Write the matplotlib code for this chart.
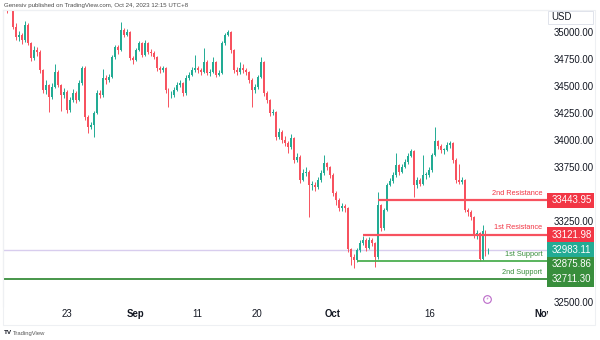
import matplotlib
matplotlib.use("Agg")
import matplotlib.pyplot as plt
import numpy as np
from matplotlib.patches import Rectangle
from matplotlib.transforms import blended_transform_factory, Bbox, TransformedBbox

# ---- US30 price bars (each bar opens at the previous close) ----
first_open = 35260
closes = [
    35240, 35280, 35046, 34954, 34972, 34926, 35065, 34898, 34759, 34833,
    34815, 34648, 34463, 34509, 34398, 34491, 34630, 34509, 34417, 34444,
    34278, 34370, 34435, 34370, 34528, 34667, 34213, 34120, 34139, 34250,
    34435, 34417, 34574, 34556, 34583, 34769, 34861, 34833, 35019, 34972,
    35000, 34759, 34741, 34833, 34898, 34787, 34898, 34815, 34806, 34769,
    34667, 34648,
    34667, 34463, 34417, 34417, 34463, 34509, 34528, 34435, 34574, 34602,
    34648, 34667, 34648, 34630, 34722, 34620, 34630, 34722, 34602, 34620,
    34898, 34972, 35000, 34833, 34648, 34630, 34667, 34648, 34630, 34556,
    34463, 34491, 34583, 34722, 34435, 34370, 34250, 34259, 34028, 34074,
    34000, 33972, 33935, 34019, 33815, 33843, 33630, 33694, 33704, 33583,
    33583, 33565, 33630, 33694, 33787, 33750, 33676, 33509, 33444,
    33370, 33389, 33370, 32991, 32917, 32889, 32981, 33046, 33074, 33000,
    33074, 33046, 32917, 33398, 33185, 33352, 33583, 33620, 33676, 33769,
    33704, 33750, 33796, 33852, 33898, 33583, 33630, 33593, 33676, 33676,
    33722, 33861, 33991, 33944, 33907, 33907, 33954, 33972, 33815, 33630,
    33611, 33630, 33352, 33333, 33287, 33111, 33139, 32900, 33160, 32955,
    32983.11,
]
highs = [
    35300, 35330, 35300, 35080, 35010, 34990, 35100, 35080, 34910, 34870,
    34860, 34830, 34660, 34560, 34520, 34530, 34700, 34650, 34520, 34480,
    34460, 34400, 34470, 34450, 34560, 34690, 34690, 34230, 34170, 34270,
    34460, 34460, 34660, 34600, 34610, 34790, 34880, 34880, 35093, 35040,
    35030, 35010, 34780, 34850, 34920, 34910, 34930, 34905, 34840, 34820,
    34780, 34690,
    34690, 34680, 34480, 34450, 34490, 34540, 34560, 34540, 34600, 34630,
    34680, 34787, 34690, 34670, 34852, 34740, 34660, 34770, 34730, 34650,
    34920, 34990, 35020, 35010, 34840, 34680, 34720, 34700, 34670, 34640,
    34570, 34520, 34600, 34769, 34730, 34450, 34380, 34290, 34270, 34110,
    34090, 34040, 33990, 34060, 34030, 33880, 33860, 33730, 33750, 33720,
    33620, 33610, 33660, 33720, 33861, 33800, 33760, 33690, 33530,
    33460, 33420, 33410, 33380, 33000, 32940, 33000, 33070, 33110, 33090,
    33100, 33090, 33060, 33519, 33410, 33370, 33600, 33650, 33700, 33880,
    33780, 33780, 33820, 33880, 33920, 33910, 33660, 33650, 33861, 33700,
    33750, 33880, 34120, 34000, 33960, 33930, 33980, 33990, 33980, 33830,
    33780, 33660, 33640, 33370, 33350, 33300, 33170, 33150, 33213, 33170,
    33000,
]
lows = [
    35180, 35220, 35030, 34930, 34920, 34890, 34910, 34880, 34730, 34740,
    34780, 34620, 34440, 34430, 34260, 34380, 34480, 34490, 34270, 34390,
    34250, 34260, 34350, 34340, 34360, 34510, 34190, 34065, 34100, 34028,
    34240, 34390, 34400, 34520, 34540, 34570, 34750, 34800, 34820, 34950,
    34960, 34740, 34700, 34730, 34820, 34770, 34780, 34800, 34780, 34750,
    34640, 34620,
    34630, 34440, 34305, 34390, 34400, 34450, 34490, 34410, 34420, 34560,
    34590, 34630, 34620, 34600, 34620, 34600, 34590, 34620, 34580, 34590,
    34610, 34880, 34960, 34810, 34620, 34600, 34610, 34620, 34600, 34530,
    34305, 34440, 34470, 34570, 34410, 34340, 34220, 34230, 34000, 34010,
    33970, 33940, 33880, 33920, 33790, 33800, 33600, 33620, 33670, 33287,
    33540, 33530, 33550, 33610, 33680, 33720, 33650, 33480, 33400,
    33340, 33340, 33330, 32960, 32843, 32815, 32870, 32960, 33030, 32970,
    32990, 33020, 32824, 32900, 33160, 33170, 33340, 33570, 33600, 33660,
    33680, 33690, 33740, 33780, 33840, 33472, 33560, 33570, 33580, 33640,
    33660, 33700, 33850, 33920, 33880, 33870, 33900, 33930, 33790, 33600,
    33590, 33590, 33330, 33300, 33260, 33090, 33080, 32876, 32890, 32930,
    32940,
]

# ---- support / resistance levels ----
level_names = ["2nd Resistance", "1st Resistance", "1st Support", "2nd Support"]
level_values = [33443.95, 33121.98, 32875.86, 32711.30]
level_start_bar = [124, 119, 117, None]
level_colors = ["#f7525f", "#f7525f", "#4caf50", "#388e3c"]
level_box_colors = ["#f23645", "#f23645", "#388e3c", "#388e3c"]

# ---- axis labels ----
price_ticks = [32500, 32750, 33000, 33250, 33500, 33750, 34000, 34250, 34500, 34750, 35000]
date_labels = ["23", "Sep", "11", "20", "Oct", "16", "Nov"]
date_bars = [20.1, 42.8, 63.5, 83.6, 109.0, 141.5, 179.3]
month_names = {"Sep", "Oct", "Nov"}

UP = "#22ab94"
DOWN = "#f7525f"
TXT = "#131722"
FONT = "Liberation Sans"
SCALE_FS = 6.9

W, H = 600, 340
fig = plt.figure(figsize=(W / 100, H / 100), dpi=100)
fig.patch.set_facecolor("white")
plt.rcParams["font.family"] = [FONT, "DejaVu Sans"]

# price pane: x 3..548 px, y 10..306 px
ax = fig.add_axes([3 / W, 1 - 306 / H, 545 / W, 296 / H])
ax.set_facecolor("white")

opens = [first_open] + closes[:-1]
n = len(closes)
xs = np.arange(n)
o = np.array(opens, dtype=float)
c = np.array(closes, dtype=float)
hi = np.array(highs, dtype=float)
lo = np.array(lows, dtype=float)
up = c >= o
cols = np.where(up, UP, DOWN)

ax.vlines(xs, lo, hi, colors=cols, linewidth=0.7, zorder=3)
body_bottom = np.minimum(o, c)
body_h = np.maximum(np.abs(c - o), 6)
ax.bar(xs, body_h, bottom=body_bottom, width=0.66, color=cols, linewidth=0, zorder=4)

ax.set_xlim(-1.34, 180.9)
ax.set_ylim(32463, 35204)

# last price line
ax.axhline(closes[-1], color="#d8cdee", linewidth=1.0, zorder=2)

# support / resistance lines and their labels
x_left, x_right = ax.get_xlim()
for name, val, start, col, tcol in zip(level_names, level_values, level_start_bar,
                                       level_colors, level_box_colors):
    x0 = x_left if start is None else start
    ax.hlines(val, x0, x_right, color=col, linewidth=1.6 if "Resistance" in name else 1.3, zorder=5)
    ax.annotate(name, xy=(1.0, val), xycoords=blended_transform_factory(ax.transAxes, ax.transData),
                xytext=(-4, 2.5), textcoords="offset points", ha="right", va="bottom",
                fontsize=5.3, color=tcol, zorder=6)

# price boxes on the scale, pushed apart so they do not overlap
box_items = [(v, col) for v, col in zip(level_values, level_box_colors)] + [(closes[-1], UP)]
box_items.sort(key=lambda t: -t[0])
min_gap = 14.5
box_h = 15
box_centres = []
prev = None
for val, col in box_items:
    yd = ax.transData.transform((0, val))[1]
    if prev is not None and yd > prev - min_gap:
        yd = prev - min_gap
    prev = yd
    box_centres.append(yd)
    fig.add_artist(Rectangle((547 / W, (yd - box_h / 2) / H), 47 / W, box_h / H,
                             transform=fig.transFigure, facecolor=col, edgecolor="none", zorder=10))
    fig.text(552 / W, yd / H, f"{val:.2f}", ha="left", va="center", fontsize=SCALE_FS,
             color="white", zorder=11)

# price scale on the right; labels hidden behind a price box are left out
ax.yaxis.tick_right()
ax.set_yticks(price_ticks)
shown = []
for v in price_ticks:
    yd = ax.transData.transform((0, v))[1]
    covered = any(abs(yd - bc) < box_h / 2 + 4 for bc in box_centres)
    shown.append("" if covered else f"{v:.2f}")
ax.set_yticklabels(shown)
ax.tick_params(axis="y", length=0, pad=4, labelsize=SCALE_FS, labelcolor=TXT)
ax.set_xticks([])
for s in ["right", "bottom"]:
    ax.spines[s].set_visible(False)
for s in ["left", "top"]:
    ax.spines[s].set_color("#e0e3eb")
    ax.spines[s].set_linewidth(0.8)

# date labels along the bottom, clipped at the pane's right edge
clip = TransformedBbox(Bbox([[0, -0.2], [1, 1]]), ax.transAxes)
tr = blended_transform_factory(ax.transData, ax.transAxes)
for lab, pos in zip(date_labels, date_bars):
    t = fig.text(pos, -0.028, lab, transform=tr, ha="center", va="center",
                 fontsize=SCALE_FS, color=TXT, fontweight="bold" if lab in month_names else "normal")
    t.set_clip_box(clip)
    t.set_clip_on(True)

# currency box
fig.add_artist(Rectangle((548 / W, 1 - 24 / H), 45 / W, 13 / H, transform=fig.transFigure,
                         facecolor="white", edgecolor="#e0e3eb", linewidth=0.7, zorder=10))
fig.text(551 / W, 1 - 17.5 / H, "USD", ha="left", va="center", fontsize=SCALE_FS, color=TXT, zorder=11)

# event marker near the time scale
ax.plot([160.5], [0.024], transform=tr, marker="o", ms=5.5, mfc="white", mec="#ba68c8",
        mew=0.8, clip_on=False, zorder=7)
ax.text(160.5, 0.024, "\u26a1", transform=tr, ha="center", va="center", fontsize=3.2,
        color="#ba68c8", family="DejaVu Sans", zorder=8, clip_on=False)

# widget frame
fig.add_artist(Rectangle((3 / W, 1 - 325 / H), 592 / W, 315 / H, transform=fig.transFigure,
                         facecolor="none", edgecolor="#eef0f3", linewidth=0.8, zorder=1))

# header and footer texts
fig.text(4 / W, 1 - 5 / H, "Genesiv published on TradingView.com, Oct 24, 2023 12:15 UTC+8",
         ha="left", va="center", fontsize=4.4, color="#4a4a4a")
fig.text(4 / W, 1 - 333 / H, "TV", ha="left", va="center", fontsize=4.6, fontweight="bold",
         color="#131722")
fig.text(13 / W, 1 - 333 / H, "TradingView", ha="left", va="center", fontsize=4.2, color="#555555")

fig.savefig("out.png", dpi=100, facecolor="white")
